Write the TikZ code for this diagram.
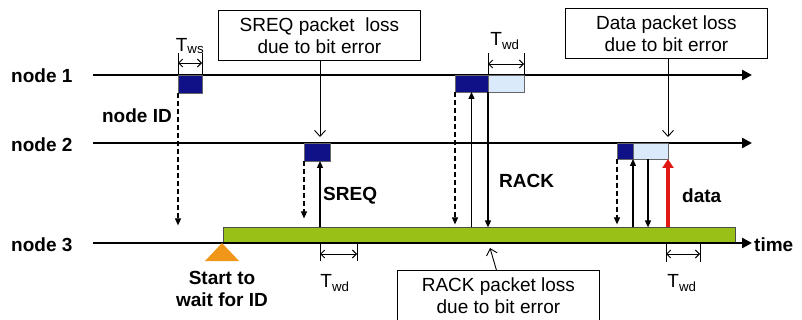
\documentclass[tikz,border=0pt]{standalone}
\usepackage{fontspec}
\setmainfont{Liberation Sans}
\usetikzlibrary{arrows.meta, positioning}
\definecolor{PktDark}{RGB}{16, 16, 135}
\definecolor{PktLight}{RGB}{218, 234, 250}
\definecolor{WaitGreen}{RGB}{152, 192, 22}
\definecolor{StartOrange}{RGB}{240, 150, 25}
\definecolor{DataRed}{RGB}{225, 25, 20}
\begin{document}
\begin{tikzpicture}[x=1pt, y=-1pt,
  lab/.style={font=\fontsize{19}{22}\selectfont\bfseries, align=center, inner sep=0pt},
  box/.style={draw, line width=0.8pt, font=\fontsize{19}{22}\selectfont, align=center, minimum width=202pt, inner sep=0pt},
  tlab/.style={font=\fontsize{19}{22}\selectfont, inner sep=0pt},
  axis/.style={-{Triangle[length=10pt, width=10pt]}, line width=2.4pt},
  dblk/.style={fill=PktDark, draw=black!60, line width=0.4pt, inner sep=0pt, outer sep=0pt, minimum height=18pt, anchor=north west},
  lblk/.style={dblk, fill=PktLight, minimum height=18pt},
  arr/.style={-{Triangle[length=7pt, width=6pt]}, line width=1.2pt},
  darr/.style={arr, dashed, dash pattern=on 5pt off 3pt},
  call/.style={-{Straight Barb[length=6pt, width=11pt]}, line width=0.9pt},
  tick/.style={line width=0.8pt},
  span/.style={{Straight Barb[length=4pt, width=8pt]}-{Straight Barb[length=4pt, width=8pt]}, line width=0.9pt}]
\useasboundingbox (0,0) rectangle (802,320);
% time lines
\node[lab, anchor=west] (n1) at (11,76) {node 1};
\node[lab, anchor=west] (n2) at (11,145) {node 2};
\node[lab, anchor=west] (n3) at (11,245) {node 3};
\coordinate (l1s) at (93,75); \coordinate (l1e) at (752,75);
\coordinate (l2s) at (93,143); \coordinate (l2e) at (752,143);
\coordinate (l3s) at (93,243); \coordinate (l3e) at (752,243);
\node[fill=WaitGreen, draw=black!70, line width=0.6pt, inner sep=0pt, minimum width=512pt, minimum height=15pt, anchor=south west] (bar) at (223,243) {};
\draw[axis] (l1s) -- (l1e); \draw[axis] (l2s) -- (l2e); \draw[axis] (l3s) -- (l3e);
\node[lab, anchor=west] (tm) at (754,245) {time};
\coordinate (st) at (222,243);
\fill[StartOrange] (st) -- ++(17,18) -- ++(-34,0) -- cycle;
\node[lab, below=28pt of st] (stl) {Start to\\ wait for ID};
% packets
\node[dblk, minimum width=24pt] (b1) at (178,75) {};
\node[dblk, minimum width=26pt] (b2) at (304,143) {};
\node[dblk, minimum width=33pt, minimum height=17pt] (b3) at (455,75) {};
\node[lblk, minimum width=36pt, minimum height=17pt, anchor=north west] (b3w) at (b3.north east) {};
\node[dblk, minimum width=16pt, minimum height=16pt] (b4) at (617,143) {};
\node[lblk, minimum width=35pt, minimum height=16pt, anchor=north west] (b4w) at (b4.north east) {};
% messages
\draw[darr] (b1.south west) -- ([yshift=2pt]b1.south west |- bar.north);
\node[lab, anchor=east] (nid) at (172,116) {node ID};
\draw[darr] (b2.south west) -- ([yshift=9pt]b2.south west |- bar.north);
\draw[arr] ([xshift=3pt]b2.south |- bar.north) -- ([xshift=3pt]b2.south);
\node[lab, anchor=west] (sreq) at (323,196) {SREQ};
\draw[darr] (b3.south west) -- ([yshift=3pt]b3.south west |- bar.north);
\draw[arr] (b3.south |- bar.north) -- (b3.south);
\draw[arr] (b3.south east) -- (b3.south east |- bar.north);
\node[lab, anchor=west] (rack) at (499,181) {RACK};
\draw[darr] (b4.south west) -- ([yshift=3pt]b4.south west |- bar.north);
\draw[arr] (b4.south east |- bar.north) -- (b4.south east);
\draw[arr] ([xshift=15pt]b4.south east) -- ([xshift=15pt]b4.south east |- bar.north);
\draw[arr, DataRed, line width=3.2pt, -{Triangle[length=9pt, width=11pt]}] (b4w.south east |- bar.north) -- (b4w.south east);
\node[lab, anchor=west] (dat) at (682,196) {data};
% waiting times
\draw[tick] (b1.north west) -- ++(0,-22) (b1.north east) -- ++(0,-22);
\draw[span] ([yshift=12pt]b1.north west) -- ([yshift=12pt]b1.north east);
\node[tlab] (tws) at (190,46) {T\textsubscript{ws}};
\draw[tick] (b3w.north west) -- ++(0,-22) (b3w.north east) -- ++(0,-22);
\draw[span] ([yshift=11pt]b3w.north west) -- ([yshift=11pt]b3w.north east);
\node[tlab] (twd1) at (505,41) {T\textsubscript{wd}};
\coordinate (w1a) at (320,243); \coordinate (w1b) at (357,243);
\draw[tick] (w1a) -- ++(0,18) (w1b) -- ++(0,18);
\draw[span] ([yshift=-11pt]w1a) -- ([yshift=-11pt]w1b);
\node[tlab] (twd2) at (335,283) {T\textsubscript{wd}};
\coordinate (w2a) at (666,243); \coordinate (w2b) at (700,243);
\draw[tick] (w2a) -- ++(0,19) (w2b) -- ++(0,19);
\draw[span] ([yshift=-11pt]w2a) -- ([yshift=-11pt]w2b);
\node[tlab] (twd3) at (682,283) {T\textsubscript{wd}};
% losses
\node[box, minimum height=50pt, anchor=north west] (lsreq) at (218,10) {SREQ packet~ loss\\ due to bit error};
\draw[call] ([xshift=3pt]lsreq.south -| b2.south) -- ([xshift=3pt, yshift=6pt]b2.north);
\node[box, minimum height=50pt, anchor=north west] (ldata) at (565,8) {Data packet loss\\ due to bit error};
\draw[call] (ldata.south -| b4w.north east) -- ([yshift=6pt]b4w.north east);
\node[box, minimum height=56pt, anchor=north west, text depth=6pt] (lrack) at (397,270) {RACK packet loss\\ due to bit error};
\draw[call] ([xshift=-2pt]lrack.north) -- (490,248);
\end{tikzpicture}
\end{document}
